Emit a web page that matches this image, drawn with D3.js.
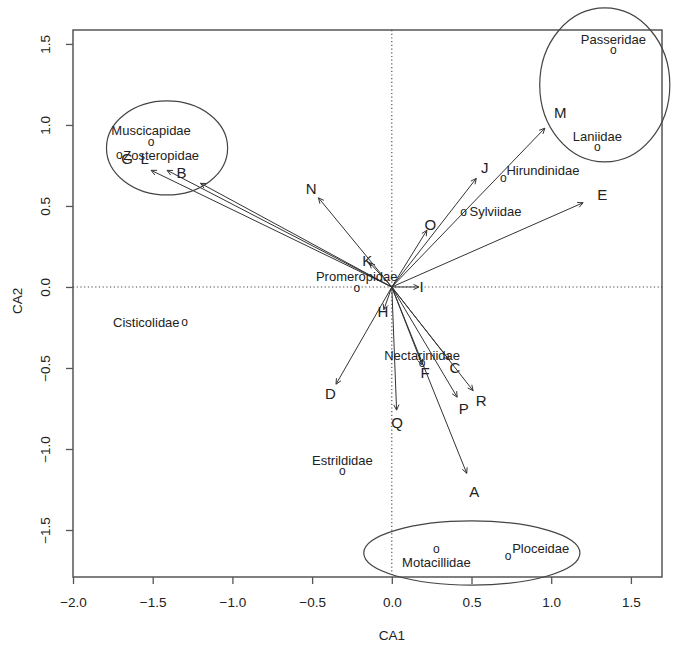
<!DOCTYPE html>
<html><head><meta charset="utf-8">
<script src="https://cdn.jsdelivr.net/npm/d3@7"></script>
<style>body{margin:0;background:#fff}svg{display:block}text{font-family:"Liberation Sans",Arial,sans-serif}</style>
</head><body><svg id="c" width="676" height="649"></svg>
<script>
// Environmental variables (arrow tips, CA1/CA2)
const envNames = ["A","B","C","D","E","F","G","H","I","J","K","L","M","N","O","P","Q","R"];
const envCA1 = [0.47,-1.20,0.36,-0.35,1.20,0.19,-1.51,-0.05,0.17,0.53,-0.14,-1.41,0.96,-0.46,0.22,0.41,0.03,0.51];
const envCA2 = [-1.15,0.64,-0.45,-0.60,0.52,-0.48,0.72,-0.14,0.00,0.67,0.15,0.72,0.98,0.55,0.35,-0.68,-0.76,-0.64];
// Bird families (site/species scores)
const famNames = ["Passeridae","Laniidae","Hirundinidae","Sylviidae","Muscicapidae","Zosteropidae","Promeropidae","Cisticolidae","Nectariniidae","Estrildidae","Motacillidae","Ploceidae"];
const famCA1 = [1.39,1.29,0.70,0.45,-1.51,-1.71,-0.22,-1.30,0.19,-0.31,0.28,0.73];
const famCA2 = [1.46,0.86,0.67,0.46,0.89,0.81,-0.01,-0.22,-0.47,-1.14,-1.62,-1.66];
// Group ellipses (centre CA1, centre CA2, radius CA1, radius CA2)
const ellCX = [-1.41,1.336,0.502];
const ellCY = [0.858,1.247,-1.642];
const ellRX = [0.38,0.408,0.678];
const ellRY = [0.29,0.475,0.198];
const xTicks = [-2.0,-1.5,-1.0,-0.5,0.0,0.5,1.0,1.5];
const yTicks = [-1.5,-1.0,-0.5,0.0,0.5,1.0,1.5];

const svg = d3.select("#c");
const L=73, R=662, T=30, B=577;
const x = d3.scaleLinear().domain([-2.0, 1.695]).range([L, R]);
const y = d3.scaleLinear().domain([-1.79, 1.586]).range([B, T]);
const fmt = d3.format(".1f");
const minus = s => s.replace("-", "\u2212");

// Axes
const xa = svg.append("g").attr("transform",`translate(0,${B})`)
  .call(d3.axisBottom(x).tickValues(xTicks).tickSize(7).tickPadding(13).tickFormat(d=>minus(fmt(d))));
const ya = svg.append("g").attr("transform",`translate(${L},0)`)
  .call(d3.axisLeft(y).tickValues(yTicks).tickSize(7).tickPadding(0).tickFormat(d=>minus(fmt(d))));
[xa,ya].forEach(a=>{a.select(".domain").remove();a.selectAll("line").attr("stroke","#555").attr("stroke-width",1.3);
  a.selectAll("text").attr("fill","#222").style("font-size","13.5px").style("font-family","Liberation Sans, Arial, sans-serif");});
ya.selectAll(".tick text").attr("transform","rotate(-90)").attr("x",0).attr("y",-28).attr("dy","0.35em").attr("text-anchor","middle");

// frame
svg.append("rect").attr("x",L).attr("y",T).attr("width",R-L).attr("height",B-T)
  .attr("fill","none").attr("stroke","#555").attr("stroke-width",1.5);

// zero lines
svg.append("line").attr("x1",L).attr("x2",R).attr("y1",y(0)).attr("y2",y(0))
  .attr("stroke","#444").attr("stroke-dasharray","1.2,2.5").attr("stroke-width",1.1);
svg.append("line").attr("x1",x(0)).attr("x2",x(0)).attr("y1",T).attr("y2",B)
  .attr("stroke","#444").attr("stroke-dasharray","1.2,2.5").attr("stroke-width",1.1);

// axis titles
svg.append("text").attr("x",x(0)).attr("y",640).attr("text-anchor","middle").attr("fill","#222").style("font-size","13.5px").text("CA1");
svg.append("text").attr("transform",`translate(22,${y(0)+14}) rotate(-90)`).attr("text-anchor","middle").attr("fill","#222").style("font-size","13.5px").text("CA2");

// arrows
const ox = x(0), oy = y(0);
const ag = svg.append("g");
envNames.forEach((n,i)=>{
  const tx = x(envCA1[i]), ty = y(envCA2[i]);
  ag.append("line").attr("x1",ox).attr("y1",oy).attr("x2",tx).attr("y2",ty)
    .attr("stroke","#333").attr("stroke-width",1);
  const ang = Math.atan2(ty-oy, tx-ox), hl = 6, ha = Math.PI/7;
  [1,-1].forEach(s=>{
    ag.append("line").attr("x1",tx).attr("y1",ty)
      .attr("x2",tx - hl*Math.cos(ang + s*ha)).attr("y2",ty - hl*Math.sin(ang + s*ha))
      .attr("stroke","#333").attr("stroke-width",1);
  });
  ag.append("text").attr("x",x(envCA1[i]*1.1)).attr("y",y(envCA2[i]*1.1)).attr("dy","0.36em")
    .attr("text-anchor","middle").attr("fill","#222").style("font-size","15px").text(n);
});

// family points + labels
const labelPlace = {
  "Passeridae":[0,-11,"middle"],"Laniidae":[0,-11,"middle"],"Hirundinidae":[3,-8,"start"],
  "Sylviidae":[6,-1,"start"],"Muscicapidae":[0,-12,"middle"],"Zosteropidae":[4,0,"start"],
  "Promeropidae":[0,-12,"middle"],"Cisticolidae":[-5,0,"end"],"Nectariniidae":[0,-8,"middle"],
  "Estrildidae":[0,-11,"middle"],"Motacillidae":[0,13,"middle"],"Ploceidae":[4,-7,"start"]};
const fg = svg.append("g");
famNames.forEach((n,i)=>{
  const px = x(famCA1[i]), py = y(famCA2[i]);
  fg.append("text").attr("x",px).attr("y",py).attr("dy","0.3em").attr("text-anchor","middle")
    .attr("fill","#222").style("font-size","12px").text("o");
  const p = labelPlace[n];
  fg.append("text").attr("x",px+p[0]).attr("y",py+p[1]).attr("dy","0.35em").attr("text-anchor",p[2])
    .attr("fill","#222").style("font-size","13px").text(n);
});

// ellipses
ellCX.forEach((c,i)=>{
  svg.append("ellipse").attr("cx",x(c)).attr("cy",y(ellCY[i]))
    .attr("rx",x(c+ellRX[i])-x(c)).attr("ry",y(ellCY[i]-ellRY[i])-y(ellCY[i]))
    .attr("fill","none").attr("stroke","#444").attr("stroke-width",1.2);
});
</script></body></html>
